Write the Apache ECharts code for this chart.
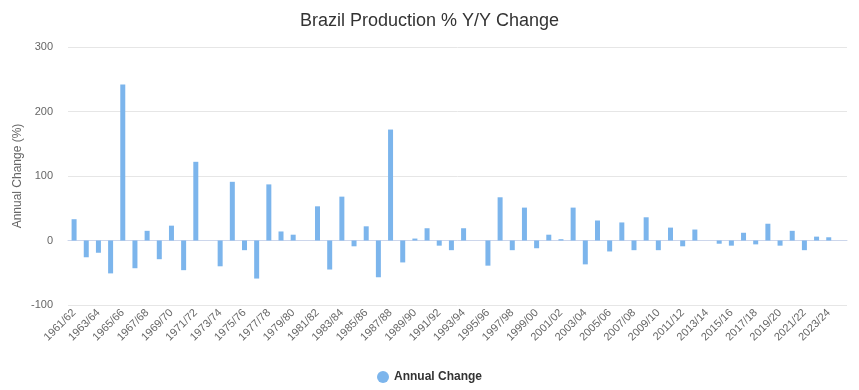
<!DOCTYPE html>
<html>
<head>
<meta charset="utf-8">
<script src="https://cdn.jsdelivr.net/npm/echarts@6/dist/echarts.min.js"></script>
<style>html,body{margin:0;padding:0;background:#fff;}#c{width:859px;height:390px;}</style>
</head>
<body>
<div id="c"></div>
<script>
const categories = [
  "1961/62","1962/63","1963/64","1964/65","1965/66","1966/67","1967/68","1968/69","1969/70","1970/71",
  "1971/72","1972/73","1973/74","1974/75","1975/76","1976/77","1977/78","1978/79","1979/80","1980/81",
  "1981/82","1982/83","1983/84","1984/85","1985/86","1986/87","1987/88","1988/89","1989/90","1990/91",
  "1991/92","1992/93","1993/94","1994/95","1995/96","1996/97","1997/98","1998/99","1999/00","2000/01",
  "2001/02","2002/03","2003/04","2004/05","2005/06","2006/07","2007/08","2008/09","2009/10","2010/11",
  "2011/12","2012/13","2013/14","2014/15","2015/16","2016/17","2017/18","2018/19","2019/20","2020/21",
  "2021/22","2022/23","2023/24","2024/25"
];
const annualChange = [
  33, -26, -19, -51, 242, -43, 15, -29, 23, -46,
  122, 0, -40, 91, -15, -59, 87, 14, 9, 0,
  53, -45, 68, -9, 22, -57, 172, -34, 3, 19,
  -8, -15, 19, 0, -39, 67, -15, 51, -12, 9,
  2, 51, -37, 31, -17, 28, -15, 36, -15, 20,
  -9, 17, 0, -5, -8, 12, -6, 26, -8, 15,
  -15, 6, 5, 0
];
const yTicks = { min: -100, max: 300, interval: 100 };

const chart = echarts.init(document.getElementById('c'), null, { renderer: 'canvas' });
const font = 'Liberation Sans, Arial, Helvetica, sans-serif';
chart.setOption({
  animation: false,
  textStyle: { fontFamily: font },
  title: {
    text: 'Brazil Production % Y/Y Change',
    left: 'center', top: 7,
    textStyle: { fontSize: 18, fontWeight: 'normal', color: '#333333', fontFamily: font }
  },
  legend: {
    bottom: 2, left: 'center',
    icon: 'circle', itemWidth: 12, itemHeight: 12, itemGap: 8,
    textStyle: { fontSize: 12, fontWeight: 'bold', color: '#333333', fontFamily: font }
  },
  grid: { left: 68, right: 12, top: 47, bottom: 85, containLabel: false },
  xAxis: {
    type: 'category',
    data: categories,
    boundaryGap: true,
    axisLine: { lineStyle: { color: '#ccd6eb' } },
    axisTick: { alignWithLabel: true, interval: 1, length: 9, lineStyle: { color: '#ccd6eb' } },
    axisLabel: { interval: 1, rotate: 45, fontSize: 11, color: '#666666', margin: 6, fontFamily: font }
  },
  yAxis: {
    type: 'value',
    min: yTicks.min, max: yTicks.max, interval: yTicks.interval,
    name: 'Annual Change (%)',
    nameLocation: 'middle', nameGap: 44, nameRotate: 90, nameMoveOverlap: false,
    nameTextStyle: { fontSize: 12, color: '#666666', fontFamily: font },
    axisLine: { show: false },
    axisTick: { show: false },
    axisLabel: { fontSize: 11, color: '#666666', margin: 15, fontFamily: font },
    splitLine: { lineStyle: { color: '#e6e6e6' } }
  },
  series: [{
    name: 'Annual Change',
    type: 'bar',
    data: annualChange,
    barWidth: 5,
    itemStyle: { color: '#7cb5ec' }
  }]
});
</script>
</body>
</html>
